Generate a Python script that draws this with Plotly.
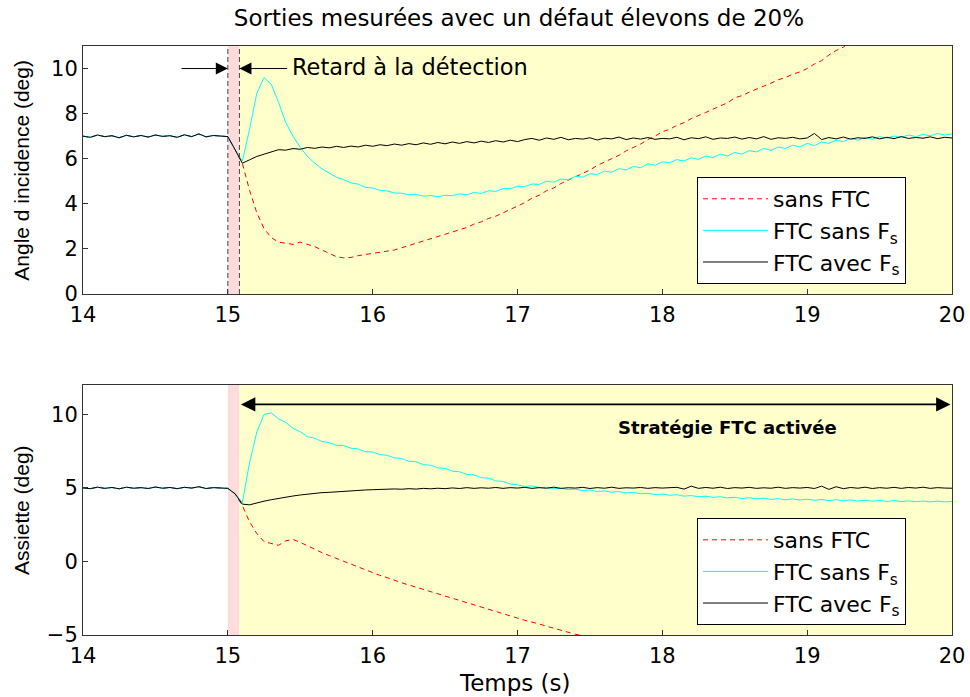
import plotly.graph_objects as go
from plotly.subplots import make_subplots

# ---------------- data (sampled every 0.05 s from t = 14.00) ----------------
T0 = 14.0
DT = 0.05

pre_alpha = [7.0, 6.95, 7.05, 6.98, 7.02, 6.93, 7.04, 6.97, 7.03, 6.96, 7.05,
             6.99, 7.02, 6.95, 7.06, 6.98, 7.1, 6.97, 7.03, 7.0, 6.98]

alpha_black_post = [6.4, 5.8, 5.95, 6.1, 6.2, 6.3, 6.4, 6.38, 6.45, 6.42, 6.5,
                    6.46, 6.52, 6.48, 6.55, 6.5, 6.56, 6.52, 6.6, 6.55,
                    6.62, 6.58, 6.65, 6.6, 6.67, 6.62, 6.7, 6.64, 6.72, 6.66,
                    6.74, 6.68, 6.76, 6.7, 6.78, 6.72, 6.8, 6.74, 6.82, 6.76,
                    6.85, 6.9, 6.82, 6.92, 6.86, 6.95, 6.84, 6.9, 6.87, 6.93,
                    6.83, 6.91, 6.88, 6.96, 6.85, 6.92, 6.87, 6.94, 6.86, 6.9,
                    6.88, 6.95, 6.84, 6.93, 6.89, 6.97, 6.86, 6.92, 6.9, 6.96,
                    6.87, 6.94, 6.88, 6.98, 6.86, 6.93, 6.9, 6.95, 6.88, 6.92,
                    7.12, 6.85, 6.94, 6.88, 6.96, 6.87, 6.93, 6.9, 6.97, 6.88,
                    6.95, 6.89, 6.98, 6.9, 6.94, 6.91, 6.97, 6.89, 6.95, 6.92]

alpha_cyan_post = [6.4, 5.9, 7.3, 8.9, 9.6, 9.3, 8.5, 7.6, 7.0, 6.5,
                   6.1, 5.8, 5.55, 5.38, 5.18, 5.07, 4.93, 4.87, 4.73, 4.7,
                   4.6, 4.57, 4.48, 4.47, 4.4, 4.42, 4.34, 4.37, 4.31, 4.38,
                   4.36, 4.44, 4.4, 4.5, 4.46, 4.58, 4.55, 4.68, 4.66, 4.78,
                   4.76, 4.88, 4.86, 5.0, 4.96, 5.1, 5.07, 5.22, 5.18, 5.33,
                   5.3, 5.45, 5.4, 5.56, 5.5, 5.66, 5.6, 5.77, 5.71, 5.86,
                   5.82, 5.96, 5.9, 6.04, 5.97, 6.12, 6.05, 6.2, 6.12, 6.28,
                   6.2, 6.36, 6.3, 6.45, 6.37, 6.52, 6.45, 6.6, 6.52, 6.68,
                   6.58, 6.74, 6.68, 6.82, 6.76, 6.9, 6.82, 6.95, 6.86, 6.98,
                   6.92, 7.0, 6.95, 7.05, 6.98, 7.08, 7.02, 7.12, 7.05, 7.1]

alpha_red_post = [6.4, 5.8, 4.6, 3.6, 2.9, 2.5, 2.3, 2.25, 2.2, 2.3, 2.2,
                  2.1, 1.95, 1.8, 1.65, 1.6, 1.62, 1.7, 1.75, 1.8,
                  1.85, 1.9, 1.95, 2.05, 2.15, 2.25, 2.35, 2.45, 2.55, 2.65,
                  2.75, 2.85, 2.95, 3.1, 3.2, 3.35, 3.45, 3.6, 3.75, 3.9,
                  4.05, 4.25, 4.38, 4.58, 4.7, 4.9, 5.05, 5.2, 5.38, 5.5,
                  5.7, 5.85, 6.02, 6.15, 6.35, 6.5, 6.65, 6.85, 7.0, 7.2,
                  7.3, 7.48, 7.6, 7.78, 7.9, 8.05, 8.2, 8.35, 8.48, 8.7,
                  8.8, 8.95, 9.1, 9.22, 9.35, 9.5, 9.6, 9.75, 9.85, 10.0,
                  10.2, 10.35, 10.6, 10.8, 10.95, 11.2]

pre_theta = [5.0, 4.95, 5.05, 4.97, 5.03, 4.94, 5.05, 4.98, 5.02, 4.96, 5.06,
             4.98, 5.03, 4.95, 5.04, 4.99, 5.08, 4.96, 5.02, 5.0, 4.97]

theta_black_post = [4.6, 3.9, 3.85, 4.0, 4.1, 4.2, 4.3, 4.38, 4.45, 4.52,
                    4.58, 4.62, 4.68, 4.7, 4.74, 4.78, 4.8, 4.84, 4.86, 4.88,
                    4.9, 4.89, 4.93, 4.91, 4.95, 4.92, 4.97, 4.94, 4.98, 4.95,
                    5.0, 4.96, 5.02, 4.97, 5.01, 4.98, 5.03, 4.97, 5.02, 4.99,
                    5.04, 4.97, 5.02, 4.98, 5.05, 4.97, 5.01, 4.99, 5.04, 4.96,
                    5.02, 4.98, 5.05, 4.97, 5.01, 4.99, 5.03, 4.97, 5.02, 4.99,
                    5.0, 5.04, 4.92, 5.12, 4.97, 5.03, 4.98, 5.05, 4.96, 5.02,
                    4.99, 5.04, 4.97, 5.01, 4.98, 5.05, 4.97, 5.02, 4.99, 5.03,
                    4.96, 5.12, 4.9, 5.08, 4.95, 5.03, 4.98, 5.05, 4.96, 5.02,
                    4.98, 5.04, 4.97, 5.03, 4.99, 5.05, 4.97, 5.02, 4.99, 4.98]

theta_cyan_post = [4.6, 4.0, 6.7, 8.8, 10.0, 10.1, 9.7, 9.45, 9.05, 8.82,
                   8.48, 8.38, 8.16, 8.08, 7.9, 7.88, 7.7, 7.65, 7.46, 7.44,
                   7.26, 7.22, 7.04, 7.0, 6.82, 6.78, 6.58, 6.55, 6.36, 6.33,
                   6.14, 6.1, 5.92, 5.88, 5.7, 5.66, 5.48, 5.44, 5.26, 5.22,
                   5.1, 5.14, 5.02, 5.04, 4.94, 4.98, 4.88, 4.92, 4.82, 4.86,
                   4.76, 4.8, 4.71, 4.75, 4.66, 4.7, 4.6, 4.64, 4.55, 4.58,
                   4.5, 4.54, 4.44, 4.48, 4.4, 4.44, 4.36, 4.4, 4.32, 4.36,
                   4.28, 4.33, 4.26, 4.3, 4.22, 4.27, 4.2, 4.25, 4.18, 4.23,
                   4.16, 4.21, 4.14, 4.2, 4.12, 4.18, 4.11, 4.16, 4.1, 4.15,
                   4.08, 4.14, 4.07, 4.12, 4.06, 4.11, 4.05, 4.1, 4.05, 4.08]

theta_red_post = [4.6, 3.8, 2.7, 1.9, 1.35, 1.2, 1.1, 1.4, 1.5, 1.3,
                  1.05, 0.85, 0.6, 0.4, 0.2, 0.05, -0.15, -0.35, -0.55, -0.8,
                  -0.95, -1.1, -1.3, -1.45, -1.6, -1.75, -1.9, -2.05, -2.2, -2.4,
                  -2.55, -2.7, -2.85, -3.0, -3.15, -3.3, -3.4, -3.55, -3.7, -3.85,
                  -4.0, -4.1, -4.25, -4.4, -4.55, -4.65, -4.8, -4.95, -5.05, -5.2]

x_ticks = [14, 15, 16, 17, 18, 19, 20]
alpha_ticks = [0, 2, 4, 6, 8, 10]
theta_ticks = [-5, 0, 5, 10]

t_fault = 15.0
t_detect = 15.08
t_end = 20.0

names = ["sans FTC", "FTC sans F<sub>s</sub>", "FTC avec F<sub>s</sub>"]
colors = ["#FF0000", "#00FFFF", "#000000"]


def times(vals):
    return [round(T0 + DT * i, 2) for i in range(len(vals))]


series_top = [pre_alpha + alpha_red_post, pre_alpha + alpha_cyan_post, pre_alpha + alpha_black_post]
series_bot = [pre_theta + theta_red_post, pre_theta + theta_cyan_post, pre_theta + theta_black_post]

fig = make_subplots(rows=2, cols=1, vertical_spacing=0.0)

FONT = "DejaVu Sans, Liberation Sans, Arial, sans-serif"
FONT_V = "Liberation Sans, Arial, sans-serif"

for row, series, leg in [(1, series_top, "legend"), (2, series_bot, "legend2")]:
    for k in range(3):
        fig.add_trace(go.Scatter(
            x=times(series[k]), y=series[k], mode="lines", name=names[k],
            line=dict(color=colors[k], width=1, dash="5px,4px" if k == 0 else "solid"),
            legend=leg, showlegend=True), row=row, col=1)

# shaded regions
for xr, yr in [("x", "y domain"), ("x2", "y2 domain")]:
    fig.add_shape(type="rect", xref=xr, yref=yr, x0=t_fault, x1=t_detect, y0=0, y1=1,
                  fillcolor="#FFDCDC", line_width=0, layer="below", showlegend=False)
    fig.add_shape(type="rect", xref=xr, yref=yr, x0=t_detect, x1=t_end, y0=0, y1=1,
                  fillcolor="#FFFFCC", line_width=0, layer="below", showlegend=False)

for xv in [t_fault, t_detect]:
    fig.add_shape(type="line", xref="x", yref="y domain", x0=xv, x1=xv, y0=0, y1=1,
                  line=dict(color="#444444", width=1, dash="5px,3px"), showlegend=False)

axis_common = dict(showgrid=False, zeroline=False, showline=True, linecolor="#333333",
                   linewidth=1, mirror=True, ticks="inside", ticklen=5, tickcolor="#333333",
                   automargin=False, ticklabeloverflow="allow",
                   tickfont=dict(size=21, color="black", family=FONT))

fig.update_xaxes(range=[14, 20], tickvals=x_ticks, ticklabelstandoff=2, **axis_common)
fig.update_xaxes(domain=[0, 1])
fig.update_yaxes(range=[0, 11], tickvals=alpha_ticks, row=1, col=1, **axis_common)
fig.update_yaxes(range=[-5, 12], tickvals=theta_ticks, row=2, col=1, **axis_common)
fig.update_layout(yaxis=dict(domain=[0.579, 1.0]), yaxis2=dict(domain=[0.0, 0.4245]))

# axis titles
fig.add_annotation(x=-0.0702, y=0.79, xref="paper", yref="paper", text="Angle d incidence (deg)",
                   textangle=-90, showarrow=False, xanchor="center", yanchor="middle",
                   font=dict(size=21, family=FONT_V, color="black"))
fig.add_annotation(x=-0.0702, y=0.2123, xref="paper", yref="paper", text="Assiette (deg)",
                   textangle=-90, showarrow=False, xanchor="center", yanchor="middle",
                   font=dict(size=21, family=FONT_V, color="black"))
fig.add_annotation(x=0.497, y=-0.0815, xref="paper", yref="paper", text="Temps (s)",
                   showarrow=False, xanchor="center", yanchor="middle",
                   font=dict(size=23, family=FONT, color="black"))

# annotations
fig.add_annotation(x=t_fault, y=10, ax=14.67, ay=10, xref="x", yref="y", axref="x", ayref="y",
                   showarrow=True, arrowhead=2, arrowsize=2.4, arrowwidth=1, arrowcolor="black", text="")
fig.add_annotation(x=t_detect, y=10, ax=15.42, ay=10, xref="x", yref="y", axref="x", ayref="y",
                   showarrow=True, arrowhead=2, arrowsize=2.4, arrowwidth=1, arrowcolor="black", text="")
fig.add_annotation(x=15.43, y=10.05, xref="x", yref="y", text="Retard à la détection", showarrow=False,
                   xanchor="left", yanchor="middle", font=dict(size=22.5, family=FONT, color="black"))

fig.add_annotation(x=19.99, y=10.68, ax=t_detect, ay=10.68, xref="x2", yref="y2", axref="x2", ayref="y2",
                   showarrow=True, arrowhead=2, startarrowhead=2, arrowside="end+start",
                   arrowsize=1.6, startarrowsize=1.6, arrowwidth=1.8, arrowcolor="black", text="")
fig.add_annotation(x=18.45, y=9.1, xref="x2", yref="y2", text="<b>Stratégie FTC activée</b>", showarrow=False,
                   xanchor="center", yanchor="middle", font=dict(size=18, family=FONT, color="black"))

legend_style = dict(bgcolor="white", bordercolor="black", borderwidth=1,
                    font=dict(size=22, family=FONT, color="black"),
                    xanchor="left", yanchor="top", itemwidth=65, tracegroupgap=0)
fig.update_layout(
    legend=dict(x=0.7066, y=0.7776, **legend_style),
    legend2=dict(x=0.7066, y=0.1986, **legend_style),
)

fig.update_layout(
    width=970, height=697,
    margin=dict(l=83, r=18, t=46, b=62, autoexpand=False),
    paper_bgcolor="white", plot_bgcolor="white",
    title=dict(text="Sorties mesurées avec un défaut élevons de 20%", x=0.535, xanchor="center",
               y=0.974, yanchor="middle", font=dict(size=23, family=FONT, color="black")),
    font=dict(family=FONT, color="black"),
)

fig.write_html("out.html", config={"displayModeBar": False},
               post_script="document.body.style.margin='0px';")
